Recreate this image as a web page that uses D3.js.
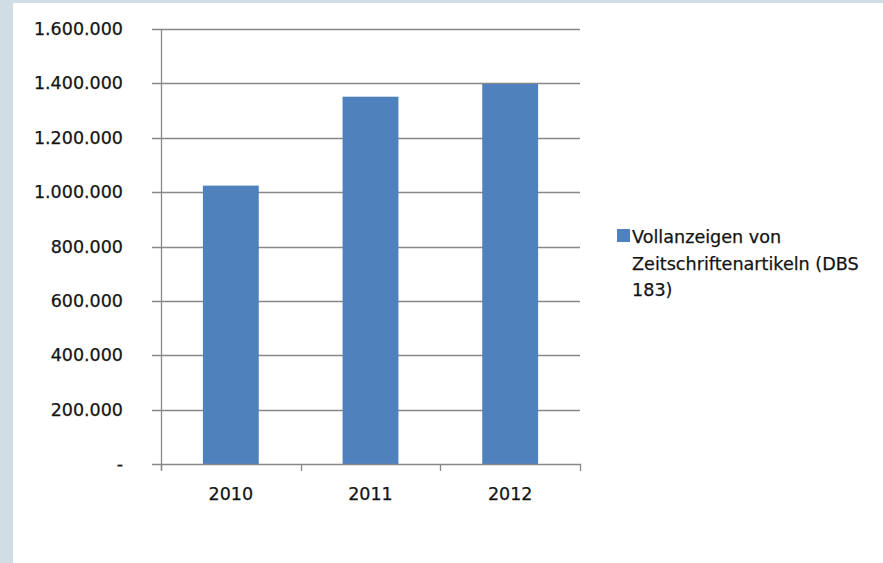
<!DOCTYPE html>
<html><head><meta charset="utf-8">
<script src="https://cdn.jsdelivr.net/npm/d3@7"></script>
<style>
html,body{margin:0;padding:0;background:#fff;}
svg{display:block;}
</style></head>
<body>
<script>
const categories = ["2010", "2011", "2012"];
const values = [1024000, 1351000, 1398000];
const yTicks = [0, 200000, 400000, 600000, 800000, 1000000, 1200000, 1400000, 1600000];
const seriesName = ["Vollanzeigen von", "Zeitschriftenartikeln (DBS", "183)"];

const W = 883, H = 563;
const svg = d3.select("body").append("svg").attr("width", W).attr("height", H);
svg.append("rect").attr("width", W).attr("height", H).attr("fill", "#d0dde5");
svg.append("rect").attr("x", 13).attr("y", 3).attr("width", W - 13).attr("height", H - 3).attr("fill", "#ffffff");

const font = "DejaVu Sans, sans-serif";
const textColor = "#141414";
const x = d3.scaleBand().domain(categories).range([161, 580]).paddingInner(0.6).paddingOuter(0.3);
const y = d3.scaleLinear().domain([0, 1600000]).range([464, 29]);
const fmt = v => v === 0 ? "-" : d3.format(",")(v).replace(/,/g, ".");
const gridColor = "#888888";

// gridlines
svg.append("g").selectAll("line").data(yTicks.filter(d => d > 0)).join("line")
  .attr("x1", 152).attr("x2", 580)
  .attr("y1", d => Math.round(y(d)) + 0.5).attr("y2", d => Math.round(y(d)) + 0.5)
  .attr("stroke", gridColor).attr("stroke-width", 1.3);

// bars
svg.append("g").selectAll("rect").data(values).join("rect")
  .attr("x", (d, i) => x(categories[i]))
  .attr("width", x.bandwidth())
  .attr("y", d => y(d))
  .attr("height", d => y(0) - y(d))
  .attr("fill", "#4f81bd");

// y axis line
svg.append("line").attr("x1", 161.5).attr("x2", 161.5).attr("y1", y(1600000)).attr("y2", 470)
  .attr("stroke", gridColor).attr("stroke-width", 1.3);
// x axis line
svg.append("line").attr("x1", 152).attr("x2", 581).attr("y1", 464.5).attr("y2", 464.5)
  .attr("stroke", gridColor).attr("stroke-width", 1.3);
// x ticks at category boundaries
const step = (x.range()[1] - x.range()[0]) / categories.length;
svg.append("g").selectAll("line").data(d3.range(categories.length + 1)).join("line")
  .attr("x1", i => Math.round(161 + i * step) + 0.5).attr("x2", i => Math.round(161 + i * step) + 0.5)
  .attr("y1", 464).attr("y2", 471)
  .attr("stroke", gridColor).attr("stroke-width", 1.3);

// y tick labels
svg.append("g").selectAll("text").data(yTicks).join("text")
  .attr("x", 123).attr("y", d => y(d) + 6)
  .attr("text-anchor", "end")
  .attr("font-family", font).attr("font-size", 17.5).attr("fill", textColor)
  .attr("stroke", textColor).attr("stroke-width", 0.25)
  .text(fmt);

// x labels
svg.append("g").selectAll("text").data(categories).join("text")
  .attr("x", d => x(d) + x.bandwidth() / 2).attr("y", 500)
  .attr("text-anchor", "middle")
  .attr("font-family", font).attr("font-size", 17.5).attr("fill", textColor)
  .attr("stroke", textColor).attr("stroke-width", 0.25)
  .text(d => d);

// legend
const lg = svg.append("g");
lg.append("rect").attr("x", 617).attr("y", 229).attr("width", 13).attr("height", 13).attr("fill", "#4f81bd");
lg.selectAll("text").data(seriesName).join("text")
  .attr("x", 632).attr("y", (d, i) => 243 + i * 26.5)
  .attr("font-family", font).attr("font-size", 17.6).attr("fill", textColor)
  .attr("stroke", textColor).attr("stroke-width", 0.25)
  .text(d => d);
</script>
</body></html>
